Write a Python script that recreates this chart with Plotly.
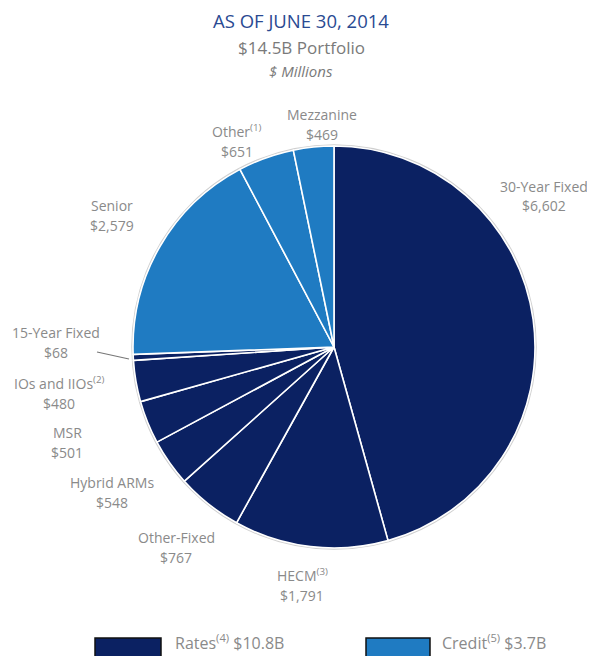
import plotly.graph_objects as go

# Portfolio as of June 30, 2014 ($ millions), clockwise from 12 o'clock
segments = ["30-Year Fixed", "HECM<sup>(3)</sup>", "Other-Fixed", "Hybrid ARMs", "MSR",
            "IOs and IIOs<sup>(2)</sup>", "15-Year Fixed", "Senior", "Other<sup>(1)</sup>", "Mezzanine"]
amounts = [6602, 1791, 767, 548, 501, 480, 68, 2579, 651, 469]
groups = ["Rates", "Rates", "Rates", "Rates", "Rates", "Rates", "Rates", "Credit", "Credit", "Credit"]
group_names = ["Rates<sup>(4)</sup>", "Credit<sup>(5)</sup>"]

W, H = 595, 656
OFF = 8  # page body margin
NAVY = "#0b2162"
BLUE = "#1f7bc2"
GREY = "#8a8a8a"
FONT = "Open Sans"
group_colour = {"Rates": NAVY, "Credit": BLUE}


def px(x, y):
    # page pixel -> paper coords
    return (x - OFF) / W, 1 - (y - OFF) / H


# pie box in page pixels (left, top, size)
pl, pt, ps = 133, 146, 402
x0, y1 = px(pl, pt)
x1, y0 = px(pl + ps, pt + ps)

fig = go.Figure(go.Pie(
    labels=segments, values=amounts, sort=False, direction="clockwise", rotation=0,
    marker=dict(colors=[group_colour[g] for g in groups], line=dict(color="white", width=1.6)),
    textinfo="none", hoverinfo="label+value", showlegend=False,
    domain=dict(x=[x0, x1], y=[y0, y1]),
))

# label centres in page pixels (x, y of first line)
label_pos = {
    "30-Year Fixed": (544, 186),
    "HECM<sup>(3)</sup>": (302, 575),
    "Other-Fixed": (176, 537),
    "Hybrid ARMs": (112, 482),
    "MSR": (67, 432),
    "IOs and IIOs<sup>(2)</sup>": (59, 383),
    "15-Year Fixed": (56, 332),
    "Senior": (112, 206),
    "Other<sup>(1)</sup>": (237, 131),
    "Mezzanine": (322, 114),
}


def text_at(x, y, text, size, color=GREY, xanchor="center"):
    ax, ay = px(x, y)
    return dict(x=ax, y=ay, xref="paper", yref="paper", showarrow=False,
                xanchor=xanchor, yanchor="middle", text=text,
                font=dict(family=FONT, size=size, color=color))


ann = []
for name, val in zip(segments, amounts):
    x, y = label_pos[name]
    ann.append(text_at(x, y, name, 14))
    ann.append(text_at(x, y + 20, f"${val:,}", 14))

# titles
ann.append(text_at(301, 21, "AS OF JUNE 30, 2014", 18.5, "#2a4a92"))
ann.append(text_at(301, 47, "$14.5B Portfolio", 17, "#7a7a7a"))
ann.append(text_at(301, 71, "<i>$ Millions</i>", 15, "#7a7a7a"))

# leader line for the thin slice
lx0, ly0 = px(97, 352)
lx1, ly1 = px(129, 359)
shapes = [dict(type="line", xref="paper", yref="paper", x0=lx0, y0=ly0, x1=lx1, y1=ly1,
               line=dict(color="#777777", width=1.2))]

# soft outline around the pie
cx0, cy1 = px(pl - 1, pt - 1)
cx1, cy0 = px(pl + ps + 1, pt + ps + 1)
shapes.append(dict(type="circle", xref="paper", yref="paper", x0=cx0, x1=cx1, y0=cy0, y1=cy1,
                   line=dict(color="#d0d0d0", width=1.5), layer="below"))

# legend (drawn manually)
totals = {g: sum(v for v, gg in zip(amounts, groups) if gg == g) for g in ["Rates", "Credit"]}
leg_x = {"Rates": (95, 161, 173), "Credit": (366, 430, 440)}
for g, gname in zip(["Rates", "Credit"], group_names):
    rx0, rx1, tx = leg_x[g]
    a, top = px(rx0, 638)
    b, _ = px(rx1, 638)
    shapes.append(dict(type="rect", xref="paper", yref="paper", x0=a, x1=b,
                       y0=-0.1, y1=top, fillcolor=group_colour[g],
                       line=dict(color="#111111", width=1.5)))
    ann.append(text_at(tx, 642, f"{gname} ${totals[g] / 1000:.1f}B", 16, xanchor="left"))

fig.update_layout(width=W, height=H, margin=dict(l=0, r=0, t=0, b=0),
                  paper_bgcolor="white", plot_bgcolor="white",
                  annotations=ann, shapes=shapes)

fig.write_html("out.html")
